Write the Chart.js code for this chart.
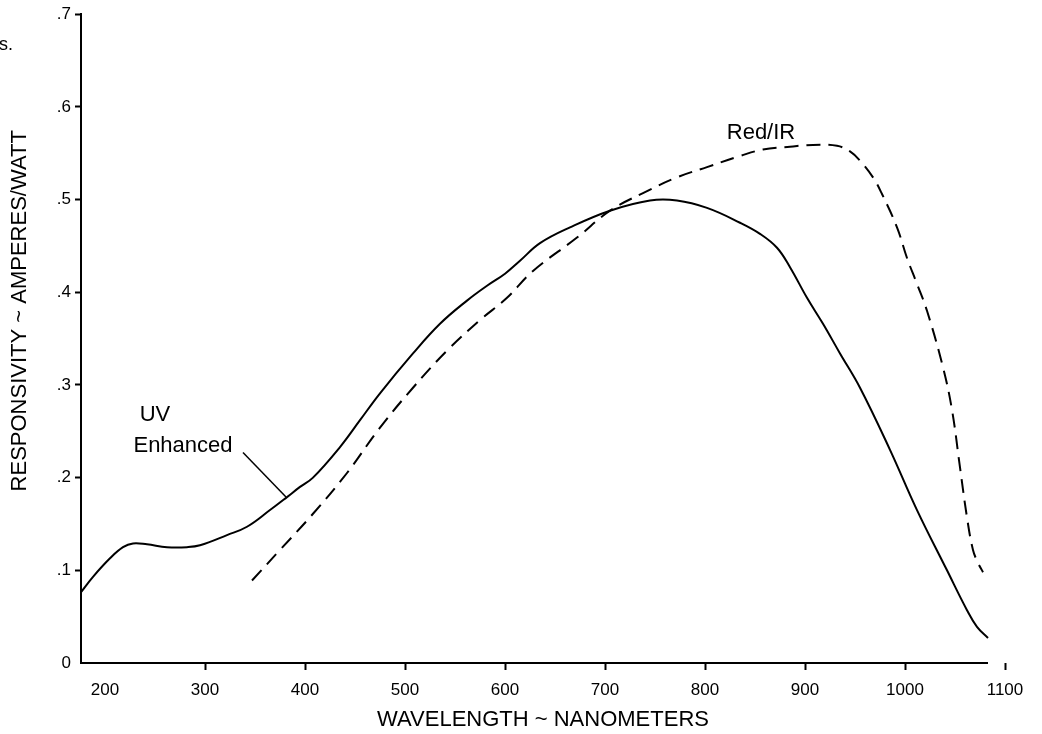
<!DOCTYPE html>
<html>
<head>
<meta charset="utf-8">
<script src="https://cdn.jsdelivr.net/npm/chart.js@4.4.1/dist/chart.umd.min.js"></script>
<style>
  html, body { margin: 0; padding: 0; background: #fff; }
  canvas { display: block; }
</style>
</head>
<body>
<canvas id="responsivityChart" width="1042" height="734"></canvas>
<script>
// UV Enhanced photodiode (solid curve)
const uvWavelength = [175, 188, 205, 218, 228, 242, 262, 282, 295, 322, 342, 365, 382, 395, 408, 435, 455, 475, 508, 535, 562, 582, 600, 615, 635, 665, 705, 745, 772, 802, 835, 855, 872, 885, 902, 918, 935, 955, 985, 1012, 1042, 1062, 1072, 1083];
const uvResponse = [0.075, 0.093, 0.113, 0.125, 0.129, 0.128, 0.125, 0.125, 0.127, 0.138, 0.147, 0.165, 0.179, 0.190, 0.200, 0.233, 0.262, 0.291, 0.334, 0.366, 0.391, 0.407, 0.420, 0.434, 0.453, 0.470, 0.488, 0.499, 0.499, 0.491, 0.475, 0.463, 0.448, 0.427, 0.394, 0.366, 0.334, 0.297, 0.230, 0.165, 0.100, 0.057, 0.039, 0.027];

// Red/IR photodiode (dashed curve)
const redWavelength = [347, 375, 408, 442, 475, 508, 542, 575, 602, 628, 672, 705, 738, 772, 802, 835, 858, 885, 908, 932, 945, 955, 968, 977, 992, 1002, 1012, 1022, 1038, 1047, 1055, 1062, 1068, 1073, 1078];
const redResponse = [0.089, 0.122, 0.161, 0.205, 0.254, 0.297, 0.337, 0.370, 0.394, 0.423, 0.459, 0.488, 0.507, 0.524, 0.535, 0.547, 0.554, 0.557, 0.559, 0.558, 0.552, 0.542, 0.524, 0.506, 0.470, 0.437, 0.409, 0.380, 0.319, 0.273, 0.211, 0.157, 0.122, 0.108, 0.098];

// leader line from the "UV Enhanced" label to its curve
const leaderWavelength = [338, 381];
const leaderResponse = [0.227, 0.179];

const xTicks = [200, 300, 400, 500, 600, 700, 800, 900, 1000, 1100];
const yTicks = [0, 0.1, 0.2, 0.3, 0.4, 0.5, 0.6, 0.7];
const xAxisEnd = 1083;

const yTitle = 'RESPONSIVITY ~ AMPERES/WATT';
const curveLabels = [
    { text: 'UV', x: 250, y: 0.268 },
    { text: 'Enhanced', x: 278, y: 0.234 },
    { text: 'Red/IR', x: 856, y: 0.572 }
];

const FONT = '"Liberation Sans", Arial, Helvetica, sans-serif';

const toPoints = (xs, ys) => xs.map((x, i) => ({ x: x, y: ys[i] }));

const annotations = {
    id: 'annotations',
    afterDraw: (chart) => {
        const ctx = chart.ctx;
        const xs = chart.scales.x;
        const ys = chart.scales.y;
        ctx.save();
        // x axis line stops short of the last tick
        ctx.strokeStyle = '#000';
        ctx.lineWidth = 2;
        ctx.beginPath();
        ctx.moveTo(chart.chartArea.left - 1, chart.chartArea.bottom);
        ctx.lineTo(xs.getPixelForValue(xAxisEnd), chart.chartArea.bottom);
        ctx.stroke();

        ctx.fillStyle = '#000';
        ctx.font = '22px ' + FONT;
        ctx.textAlign = 'center';
        ctx.textBaseline = 'middle';
        curveLabels.forEach(l => {
            ctx.fillText(l.text, xs.getPixelForValue(l.x), ys.getPixelForValue(l.y));
        });

        // y axis title sits a little above the axis middle in the original
        ctx.save();
        ctx.translate(20, ys.getPixelForValue(0.380));
        ctx.rotate(-Math.PI / 2);
        ctx.fillText(yTitle, 0, 0);
        ctx.restore();

        // clipped fragment of page text at the top left
        ctx.font = '18px ' + FONT;
        ctx.textAlign = 'left';
        ctx.textBaseline = 'alphabetic';
        ctx.fillText('s.', -1, 50);
        ctx.restore();
    }
};

new Chart(document.getElementById('responsivityChart'), {
    type: 'line',
    data: {
        datasets: [{
            label: 'UV Enhanced',
            data: toPoints(uvWavelength, uvResponse),
            borderColor: '#000',
            borderWidth: 2,
            pointRadius: 0,
            tension: 0.4,
            fill: false
        }, {
            label: 'Red/IR',
            data: toPoints(redWavelength, redResponse),
            borderColor: '#000',
            borderWidth: 2,
            borderDash: [14, 8],
            pointRadius: 0,
            tension: 0.4,
            fill: false
        }, {
            label: 'leader',
            data: toPoints(leaderWavelength, leaderResponse),
            borderColor: '#000',
            borderWidth: 1.5,
            pointRadius: 0,
            fill: false
        }]
    },
    plugins: [annotations],
    options: {
        responsive: false,
        animation: false,
        layout: { padding: { top: 14, right: 37, bottom: 0, left: 0 } },
        plugins: {
            legend: { display: false },
            tooltip: { enabled: false }
        },
        scales: {
            x: {
                type: 'linear',
                min: 176,
                max: 1100,
                afterFit: (s) => { s.height = 71; },
                afterBuildTicks: (s) => { s.ticks = xTicks.map(v => ({ value: v })); },
                border: { display: false },
                grid: {
                    display: true,
                    drawOnChartArea: false,
                    drawTicks: true,
                    tickLength: 7,
                    tickWidth: 2,
                    tickColor: (c) => (c.tick && c.tick.value === 200) ? 'rgba(0,0,0,0)' : '#000'
                },
                ticks: {
                    color: '#000',
                    font: { family: FONT, size: 17 },
                    padding: 10,
                    maxRotation: 0,
                    autoSkip: false,
                    callback: (v) => String(v)
                },
                title: {
                    display: true,
                    text: 'WAVELENGTH ~ NANOMETERS',
                    color: '#000',
                    font: { family: FONT, size: 22 },
                    padding: { top: 0, bottom: 1 }
                }
            },
            y: {
                min: 0,
                max: 0.7,
                afterFit: (s) => { s.width = 81; },
                afterBuildTicks: (s) => { s.ticks = yTicks.map(v => ({ value: v })); },
                border: { display: true, color: '#000', width: 2 },
                grid: {
                    display: true,
                    drawOnChartArea: false,
                    drawTicks: true,
                    tickLength: 6,
                    tickWidth: 2,
                    tickColor: (c) => (c.tick && c.tick.value === 0) ? 'rgba(0,0,0,0)' : '#000'
                },
                ticks: {
                    color: '#000',
                    font: { family: FONT, size: 17 },
                    padding: 4,
                    autoSkip: false,
                    callback: (v) => v === 0 ? '0' : '.' + Math.round(v * 10)
                },
                title: { display: false }
            }
        }
    }
});
</script>
</body>
</html>
